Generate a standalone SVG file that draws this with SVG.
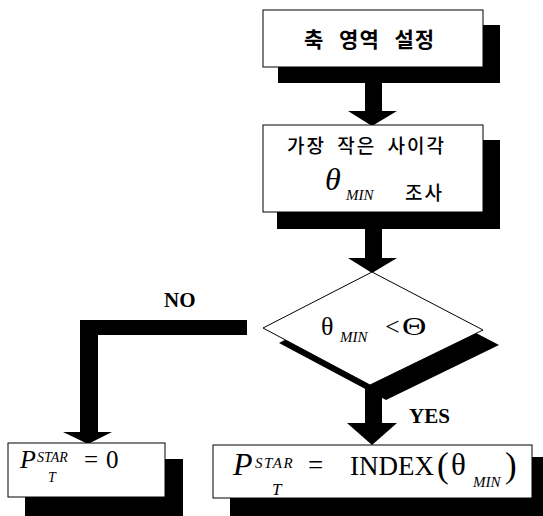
<svg xmlns="http://www.w3.org/2000/svg" width="543" height="516" viewBox="0 0 543 516">
  <style>
    .box { fill: #ffffff; stroke: #000000; stroke-width: 1; }
    .shadow { fill: #000000; }
    .bar { fill: #000000; }
    .ko { font-family: "Noto Sans CJK KR", "Noto Sans", sans-serif; fill: #000000; }
    .ser { font-family: "Liberation Serif", "Times New Roman", serif; fill: #000000; }
    .it { font-style: italic; }
    .lbl { font-family: "Liberation Serif", "Times New Roman", serif; font-weight: bold; font-size: 21px; fill: #000000; }
  </style>
  <rect width="543" height="516" fill="#ffffff"/>

  <!-- connectors: thick black bars with solid arrowheads -->
  <g id="connectors">
    <!-- box 1 to box 2 -->
    <rect class="bar" x="365" y="80" width="17" height="32"/>
    <polygon class="bar" points="348,111 397,111 372,126"/>
    <!-- box 2 to decision -->
    <rect class="bar" x="365" y="226" width="17" height="33"/>
    <polygon class="bar" points="348,258 397,258 372,273"/>
    <!-- decision YES branch -->
    <rect class="bar" x="365" y="385" width="17" height="39"/>
    <polygon class="bar" points="347,423 397,423 372,445"/>
    <!-- decision NO branch -->
    <rect class="bar" x="80" y="320" width="167" height="15"/>
    <rect class="bar" x="80" y="320" width="18" height="113"/>
    <polygon class="bar" points="63,432 112,432 88,444"/>
    <text class="lbl" x="164" y="307">NO</text>
    <text class="lbl" x="409" y="423">YES</text>
  </g>

  <!-- step 1: axis region setting -->
  <g id="node-axis">
    <rect class="shadow" x="278" y="25" width="222" height="58"/>
    <rect class="box" x="263" y="10" width="220" height="57"/>
    <text class="ko" x="304" y="47" font-size="21" font-weight="bold" letter-spacing="1" word-spacing="9">축 영역 설정</text>
  </g>

  <!-- step 2: find smallest included angle -->
  <g id="node-min-angle">
    <rect class="shadow" x="277" y="140" width="223" height="89"/>
    <rect class="box" x="263" y="125" width="220" height="87"/>
    <text class="ko" x="287" y="153" font-size="19" font-weight="500" letter-spacing="2" word-spacing="5">가장 작은 사이각</text>
    <text class="ser it" x="325" y="190" font-size="32">θ</text>
    <text class="ser it" x="346" y="200" font-size="15">MIN</text>
    <text class="ko" x="405" y="200" font-size="19" font-weight="500" letter-spacing="2">조사</text>
  </g>

  <!-- decision: theta_MIN < Theta -->
  <g id="node-decision">
    <polygon class="shadow" points="388,287 279,343 386,400 499,345"/>
    <polygon class="box" points="372,272 263,328 370,385 483,330"/>
    <text class="ser" x="321" y="335" font-size="26">θ</text>
    <text class="ser it" x="340" y="342" font-size="15">MIN</text>
    <text class="ser" x="385" y="335" font-size="26">&lt;</text>
    <text class="ser" x="402" y="335" font-size="26" transform="translate(402 335) scale(1.3 1) translate(-402 -335)">Θ</text>
  </g>

  <!-- result when NO -->
  <g id="node-zero">
    <rect class="shadow" x="25" y="459" width="158" height="60"/>
    <rect class="box" x="8" y="443" width="157" height="54"/>
    <text class="ser it" x="20" y="468" font-size="26">P</text>
    <text class="ser it" x="37" y="462" font-size="14">STAR</text>
    <text class="ser it" x="48" y="482" font-size="14">T</text>
    <text class="ser" x="84" y="468" font-size="25">=</text>
    <text class="ser" x="106" y="468" font-size="25">0</text>
  </g>

  <!-- result when YES -->
  <g id="node-index">
    <rect class="shadow" x="230" y="457" width="315" height="62"/>
    <rect class="box" x="213" y="445" width="319" height="53"/>
    <text class="ser it" x="233" y="475" font-size="32">P</text>
    <text class="ser it" x="255" y="468" font-size="15" letter-spacing="1.5">STAR</text>
    <text class="ser it" x="272" y="495" font-size="17">T</text>
    <text class="ser" x="308" y="474" font-size="27">=</text>
    <text class="ser" x="350" y="475" font-size="27">INDEX</text>
    <text class="ser" x="437" y="477" font-size="35">(</text>
    <text class="ser" x="451" y="475" font-size="31">θ</text>
    <text class="ser it" x="473" y="487" font-size="15">MIN</text>
    <text class="ser" x="505" y="477" font-size="35">)</text>
  </g>
</svg>
